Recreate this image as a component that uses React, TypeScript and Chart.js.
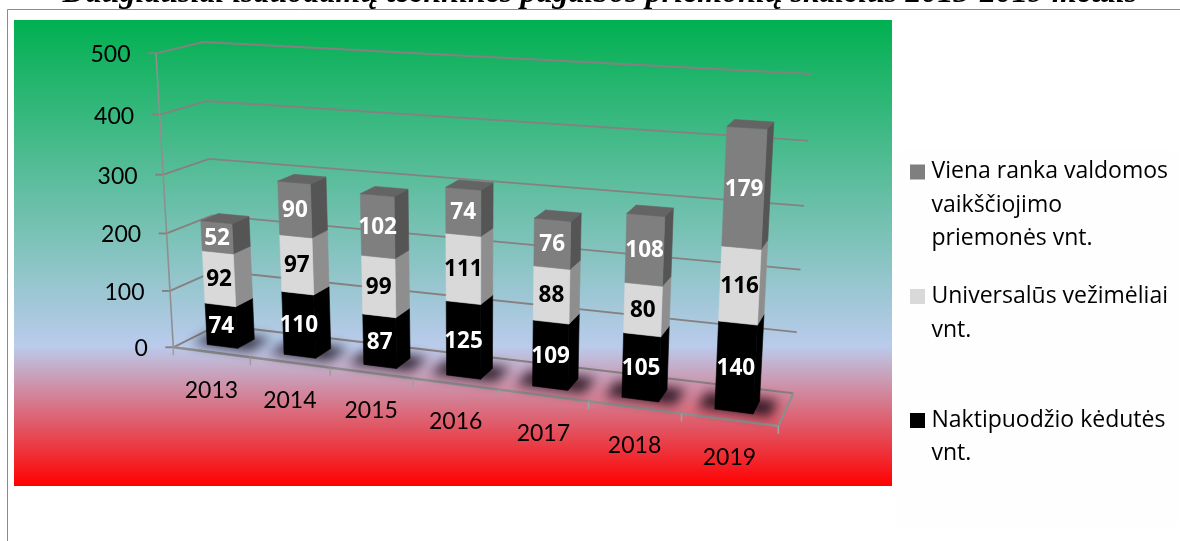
import React, { useEffect, useRef } from "react";
import { Chart, registerables } from "chart.js";

Chart.register(...registerables);

const years = ["2013", "2014", "2015", "2016", "2017", "2018", "2019"];
const seriesNaktipuodzio = [74, 110, 87, 125, 109, 105, 140];
const seriesUniversalus = [92, 97, 99, 111, 88, 80, 116];
const seriesViena = [52, 90, 102, 74, 76, 108, 179];
const labelNaktipuodzio = ["Naktipuodžio kėdutės", "vnt."];
const labelUniversalus = ["Universalūs vežimėliai", "vnt."];
const labelViena = ["Viena ranka valdomos", "vaikščiojimo", "priemonės vnt."];
const titleText = "Daugiausiai išduodamų techninės pagalbos priemonių skaičius 2013-2019 metais";

// Perspective frame of the 3D plot box (corners: floor and top, front and back)
const F0L = [173.3, 347.3], F0R = [778.3, 426], B0L = [218, 325], B0R = [793.3, 393.3];
const F1L = [156, 53.3], F1R = [796, 90], B1L = [203.3, 42], B1R = [811.7, 74];
const warp = (t: number, k: number) => (t * (1 + k)) / (1 + t * k);
const mix = (a: number[], b: number[], t: number) => [a[0] + (b[0] - a[0]) * t, a[1] + (b[1] - a[1]) * t];
function project(u: number, w: number, v: number) {
  const su = warp(u, -0.125), sw = warp(w, -0.2), sv = warp(v, -0.052);
  const f0 = mix(F0L, F0R, su), b0 = mix(B0L, B0R, su), f1 = mix(F1L, F1R, su), b1 = mix(B1L, B1R, su);
  return mix(mix(f0, b0, sw), mix(f1, b1, sw), sv);
}

const FONT = "Lato";
const GRID = "#878080";
const frontColors = ["#000000", "#D9D9D9", "#7F7F7F"];
const sideColors = ["#000000", "#8E8E8E", "#555555"];
const topColor = "#646464";
const textColors = ["#FFFFFF", "#000000", "#FFFFFF"];

function poly(ctx: CanvasRenderingContext2D, pts: number[][], fill: string, seal = false) {
  ctx.beginPath();
  pts.forEach((p, i) => (i ? ctx.lineTo(p[0], p[1]) : ctx.moveTo(p[0], p[1])));
  ctx.closePath();
  ctx.fillStyle = fill;
  ctx.fill();
  if (seal) {
    ctx.strokeStyle = fill;
    ctx.lineWidth = 0.6;
    ctx.stroke();
  }
}
function line(ctx: CanvasRenderingContext2D, a: number[], b: number[], color = GRID, width = 1.9) {
  ctx.beginPath();
  ctx.moveTo(a[0], a[1]);
  ctx.lineTo(b[0], b[1]);
  ctx.strokeStyle = color;
  ctx.lineWidth = width;
  ctx.stroke();
}

const backgroundPlugin = {
  id: "panelBackground",
  beforeDraw(chart: any) {
    const ctx = chart.ctx as CanvasRenderingContext2D;
    ctx.save();
    ctx.fillStyle = "#FFFFFF";
    ctx.fillRect(0, 0, chart.width, chart.height);
    ctx.restore();
  },
};

const scenePlugin = {
  id: "perspectiveScene",
  beforeDatasetsDraw(chart: any) {
    const ctx = chart.ctx as CanvasRenderingContext2D;
    const area = chart.chartArea;
    const yScale = chart.scales.y;
    const xScale = chart.scales.x;
    const toU = (px: number) => (px - area.left) / (area.right - area.left);
    const toV = (px: number) => (area.bottom - px) / (area.bottom - area.top);
    ctx.save();

    // panel: everything under the frame's top edge covers the tail of the title
    ctx.fillStyle = "#FFFFFF";
    ctx.fillRect(0, 9, chart.width, chart.height - 9);
    ctx.fillStyle = "#FEFEFE";
    ctx.beginPath();
    ctx.roundRect(895, 150, 283, 378, 8);
    ctx.fill();
    const g = ctx.createLinearGradient(0, 20, 0, 486);
    g.addColorStop(0, "#00B050");
    g.addColorStop(0.7, "#BACBEC");
    g.addColorStop(1, "#FF0000");
    ctx.fillStyle = g;
    ctx.fillRect(14, 20, 878, 466);
    ctx.strokeStyle = "#8C8C8C";
    ctx.lineWidth = 1;
    ctx.beginPath();
    ctx.moveTo(7.5, 541);
    ctx.lineTo(7.5, 9.5);
    ctx.lineTo(1180, 9.5);
    ctx.stroke();

    // gridlines on the side wall and back wall, with y tick labels
    const yTicks = yScale.ticks.map((t: any) => t.value);
    yTicks.forEach((value: number) => {
      const v = toV(yScale.getPixelForValue(value));
      const front = project(0, 0, v);
      const back = project(0, 1, v);
      const right = project(1, 1, v);
      line(ctx, [front[0] - 8, front[1]], front);
      line(ctx, front, back);
      line(ctx, back, right);
      ctx.font = `23px ${FONT}`;
      ctx.fillStyle = "#000000";
      ctx.textAlign = "right";
      ctx.textBaseline = "middle";
      ctx.fillText(String(value), front[0] - 25.5, front[1] + 1.5);
    });
    line(ctx, project(0, 0, 0), project(0, 0, 1), "#8F8F8F", 1.6);

    // floor outline and category ticks
    line(ctx, project(0, 0, 0), project(1, 0, 0), "#8F8F8F", 2.4);
    line(ctx, project(1, 0, 0), project(1, 1, 0), "#8F8F8F", 2.4);
    const n = years.length;
    for (let i = 0; i <= n; i++) {
      const p = project(i / n, 0, 0);
      line(ctx, p, [p[0], p[1] + 8], "#A0A0A0", 1.6);
    }

    const metas = chart.data.datasets.map((_: any, i: number) => chart.getDatasetMeta(i));

    // soft shadows on the floor
    ctx.save();
    ctx.filter = "blur(6px)";
    metas[0].data.forEach((el: any) => {
      const a = toU(el.x - el.width / 2), b = toU(el.x + el.width / 2);
      const pad = 0.026;
      poly(ctx, [project(a - pad, 0.26, 0), project(b + pad, 0.26, 0), project(b + pad, 0.78, 0), project(a - pad, 0.78, 0)], "rgba(10,0,10,0.78)");
    });
    ctx.restore();

    // stacked bars, drawn from the bar elements laid out by the scales
    const w0 = 0.3, w1 = 0.7;
    metas.forEach((meta: any, d: number) => {
      meta.data.forEach((el: any, i: number) => {
        const a = toU(el.x - el.width / 2), b = toU(el.x + el.width / 2);
        const v0 = toV(el.base), v1 = toV(el.y);
        poly(ctx, [project(b, w0, v0), project(b, w1, v0), project(b, w1, v1), project(b, w0, v1)], sideColors[d], true);
        poly(ctx, [project(a, w0, v0), project(b, w0, v0), project(b, w0, v1), project(a, w0, v1)], frontColors[d], true);
        if (d === metas.length - 1) {
          poly(ctx, [project(a, w0, v1), project(b, w0, v1), project(b, w1, v1), project(a, w1, v1)], topColor, true);
        }
      });
    });

    // value labels on the front faces
    metas.forEach((meta: any, d: number) => {
      meta.data.forEach((el: any, i: number) => {
        const a = toU(el.x - el.width / 2), b = toU(el.x + el.width / 2);
        const c = project((a + b) / 2, w0, (toV(el.base) + toV(el.y)) / 2);
        ctx.font = `bold 22.5px "Open Sans"`;
        ctx.fillStyle = textColors[d];
        ctx.textAlign = "center";
        ctx.textBaseline = "middle";
        ctx.fillText(String(chart.data.datasets[d].data[i]), c[0], c[1] + 1);
      });
    });

    // category labels
    ctx.font = `23px ${FONT}`;
    ctx.fillStyle = "#000000";
    ctx.textAlign = "center";
    ctx.textBaseline = "middle";
    xScale.getLabels().forEach((label: string, i: number) => {
      const p = project(toU(xScale.getPixelForValue(i)), 0, 0);
      ctx.fillText(label, p[0], p[1] + 38);
    });

    // legend
    const legendRows = [
      { d: 2, ys: [171.5, 205, 238] },
      { d: 1, ys: [296, 330] },
      { d: 0, ys: [420, 453] },
    ];
    ctx.font = `23px "Open Sans"`;
    ctx.textAlign = "left";
    legendRows.forEach(({ d, ys }) => {
      const ds = chart.data.datasets[d];
      ctx.fillStyle = frontColors[d];
      ctx.fillRect(910, ys[0] - 7, 15, 15);
      ctx.fillStyle = "#000000";
      (ds.label as string).split("|").forEach((text: string, i: number) => ctx.fillText(text, 931.5, ys[i]));
    });

    ctx.restore();
    return false;
  },
};

export default function App() {
  const ref = useRef<HTMLCanvasElement>(null);
  useEffect(() => {
    document.body.style.margin = "0";
    const chart = new Chart(ref.current as HTMLCanvasElement, {
      type: "bar",
      data: {
        labels: years,
        datasets: [
          { label: labelNaktipuodzio.join("|"), data: seriesNaktipuodzio, backgroundColor: frontColors[0] },
          { label: labelUniversalus.join("|"), data: seriesUniversalus, backgroundColor: frontColors[1] },
          { label: labelViena.join("|"), data: seriesViena, backgroundColor: frontColors[2] },
        ],
      },
      options: {
        responsive: false,
        animation: false,
        layout: { padding: { left: 20 } },
        datasets: { bar: { categoryPercentage: 0.4, barPercentage: 1 } },
        scales: {
          x: { stacked: true, display: false },
          y: { stacked: true, display: false, min: 0, max: 500, ticks: { stepSize: 100 } },
        },
        plugins: {
          legend: { display: false },
          tooltip: { enabled: false },
          title: {
            display: true,
            text: titleText,
            color: "#000000",
            font: { family: "Liberation Serif", style: "italic", weight: "bold", size: 32, lineHeight: 1 },
            padding: { top: -22, bottom: 0 },
          },
        },
      } as any,
      plugins: [backgroundPlugin, scenePlugin],
    });
    return () => chart.destroy();
  }, []);
  return <canvas ref={ref} width={1180} height={541} style={{ display: "block" }} />;
}
